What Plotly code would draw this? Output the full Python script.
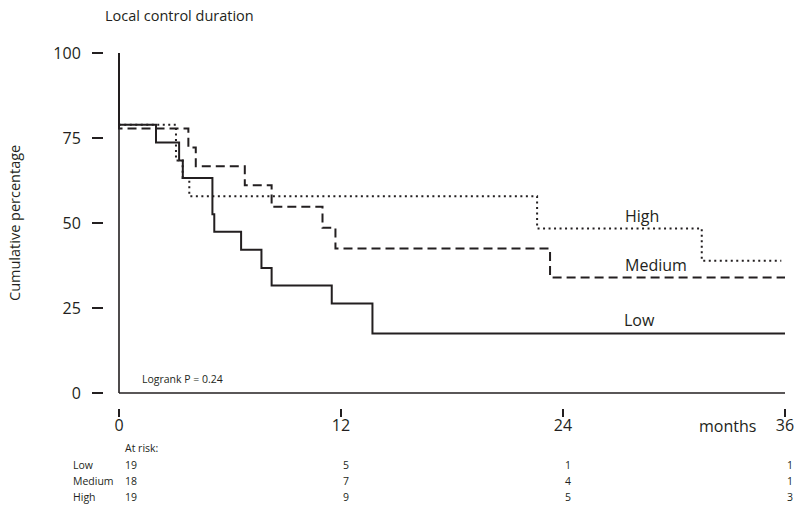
import plotly.graph_objects as go

# ---- data ----
low_t = [0, 0, 2.0, 3.25, 3.45, 5.05, 5.15, 6.6, 7.7, 8.25, 11.5, 13.7, 36]
low_s = [100, 78.9, 73.7, 68.4, 63.2, 52.6, 47.4, 42.1, 36.8, 31.6, 26.3, 17.5, 17.5]

med_t = [0, 0, 3.75, 4.15, 6.8, 8.25, 11.0, 11.7, 23.3, 36]
med_s = [100, 77.8, 72.2, 66.7, 61.1, 54.8, 48.6, 42.5, 34.0, 34.0]

high_t = [0, 0, 3.08, 3.44, 3.8, 22.6, 31.5, 35.8]
high_s = [100, 78.9, 68.4, 63.2, 57.9, 48.4, 38.9, 38.9]

x_ticks = [0, 12, 24, 36]
y_ticks = [0, 25, 50, 75, 100]

risk_times = [0, 12, 24, 36]
risk_groups = ["Low", "Medium", "High"]
risk_low = [19, 5, 1, 1]
risk_med = [18, 7, 4, 1]
risk_high = [19, 9, 5, 3]

# ---- layout geometry ----
W, H = 798, 508
L, R, T, B = 104, 8, 45, 100
PX_X0, PX_PER_M = 119.0, 18.5     # pixel of month 0, pixels per month
PX_Y0, PX_PER_P = 393.0, 3.4      # pixel of 0 %, pixels per percent
PW, PH = W - L - R, H - T - B

def xv(px):
    return (px - PX_X0) / PX_PER_M

def yv(py):
    return (PX_Y0 - py) / PX_PER_P

def xp(px):
    return (px - L) / PW

def yp(py):
    return (H - B - py) / PH

x_range = [xv(L), xv(W - R)]
y_range = [yv(H - B), yv(T)]

INK = "#231f20"
FONT = "Open Sans"

fig = go.Figure()

fig.add_trace(go.Scatter(x=high_t, y=high_s, mode="lines", line_shape="hv",
                         line=dict(color=INK, width=2, dash="2px,3.5px"), name="High"))
fig.add_trace(go.Scatter(x=med_t, y=med_s, mode="lines", line_shape="hv",
                         line=dict(color=INK, width=2, dash="9px,5px"), name="Medium"))
fig.add_trace(go.Scatter(x=low_t, y=low_s, mode="lines", line_shape="hv",
                         line=dict(color=INK, width=2), name="Low"))

# frame lines (L-shaped axes)
fig.add_shape(type="line", x0=0, x1=0, y0=0, y1=100, xref="x", yref="y",
              line=dict(color=INK, width=1.6))
fig.add_shape(type="line", x0=0, x1=36, y0=0, y1=0, xref="x", yref="y",
              line=dict(color=INK, width=1.6))

def note(px, py, text, size, anchor="center", angle=0):
    return dict(x=xp(px), y=yp(py), xref="paper", yref="paper", text=text,
                xanchor=anchor, yanchor="middle", showarrow=False, textangle=angle,
                font=dict(family=FONT, size=size, color=INK))

ann = [
    note(642, 216, "High", 16),
    note(656, 265, "Medium", 16),
    note(639, 320, "Low", 16),
    note(140, 379, "Logrank P = 0.24", 10.5, "left"),
    note(103, 15, "Local control duration", 14.5, "left"),
    note(15, 223, "Cumulative percentage", 14.5, angle=-90),
    note(727, 426, "months", 16),
    note(123, 448, "At risk:", 10.5, "left"),
]

row_py = [465, 481, 497]
for g, vals, py in zip(risk_groups, [risk_low, risk_med, risk_high], row_py):
    ann.append(note(71, py, g, 10.5, "left"))
    for i, (t, v) in enumerate(zip(risk_times, vals)):
        tx = PX_X0 + t * PX_PER_M
        if i == 0:
            ann.append(note(tx + 4, py, str(v), 10.5, "left"))
        else:
            ann.append(note(tx + 10, py, str(v), 10.5, "right"))

fig.update_layout(
    width=W, height=H,
    margin=dict(l=L, r=R, t=T, b=B, pad=0, autoexpand=False),
    paper_bgcolor="white", plot_bgcolor="white",
    showlegend=False,
    annotations=ann,
    xaxis=dict(range=x_range, tickvals=x_ticks, ticks="outside", ticklen=8, tickwidth=1.5,
               tickcolor=INK, showgrid=False, zeroline=False, showline=False,
               automargin=False, ticklabelstandoff=-5,
               tickfont=dict(family=FONT, size=16, color=INK), fixedrange=True),
    yaxis=dict(range=y_range, tickvals=y_ticks, ticks="outside", ticklen=11, tickwidth=1.5,
               tickcolor=INK, showgrid=False, zeroline=False, showline=False,
               automargin=False, ticklabelstandoff=8,
               tickfont=dict(family=FONT, size=16, color=INK), fixedrange=True),
)

fig.write_html("out.html")
